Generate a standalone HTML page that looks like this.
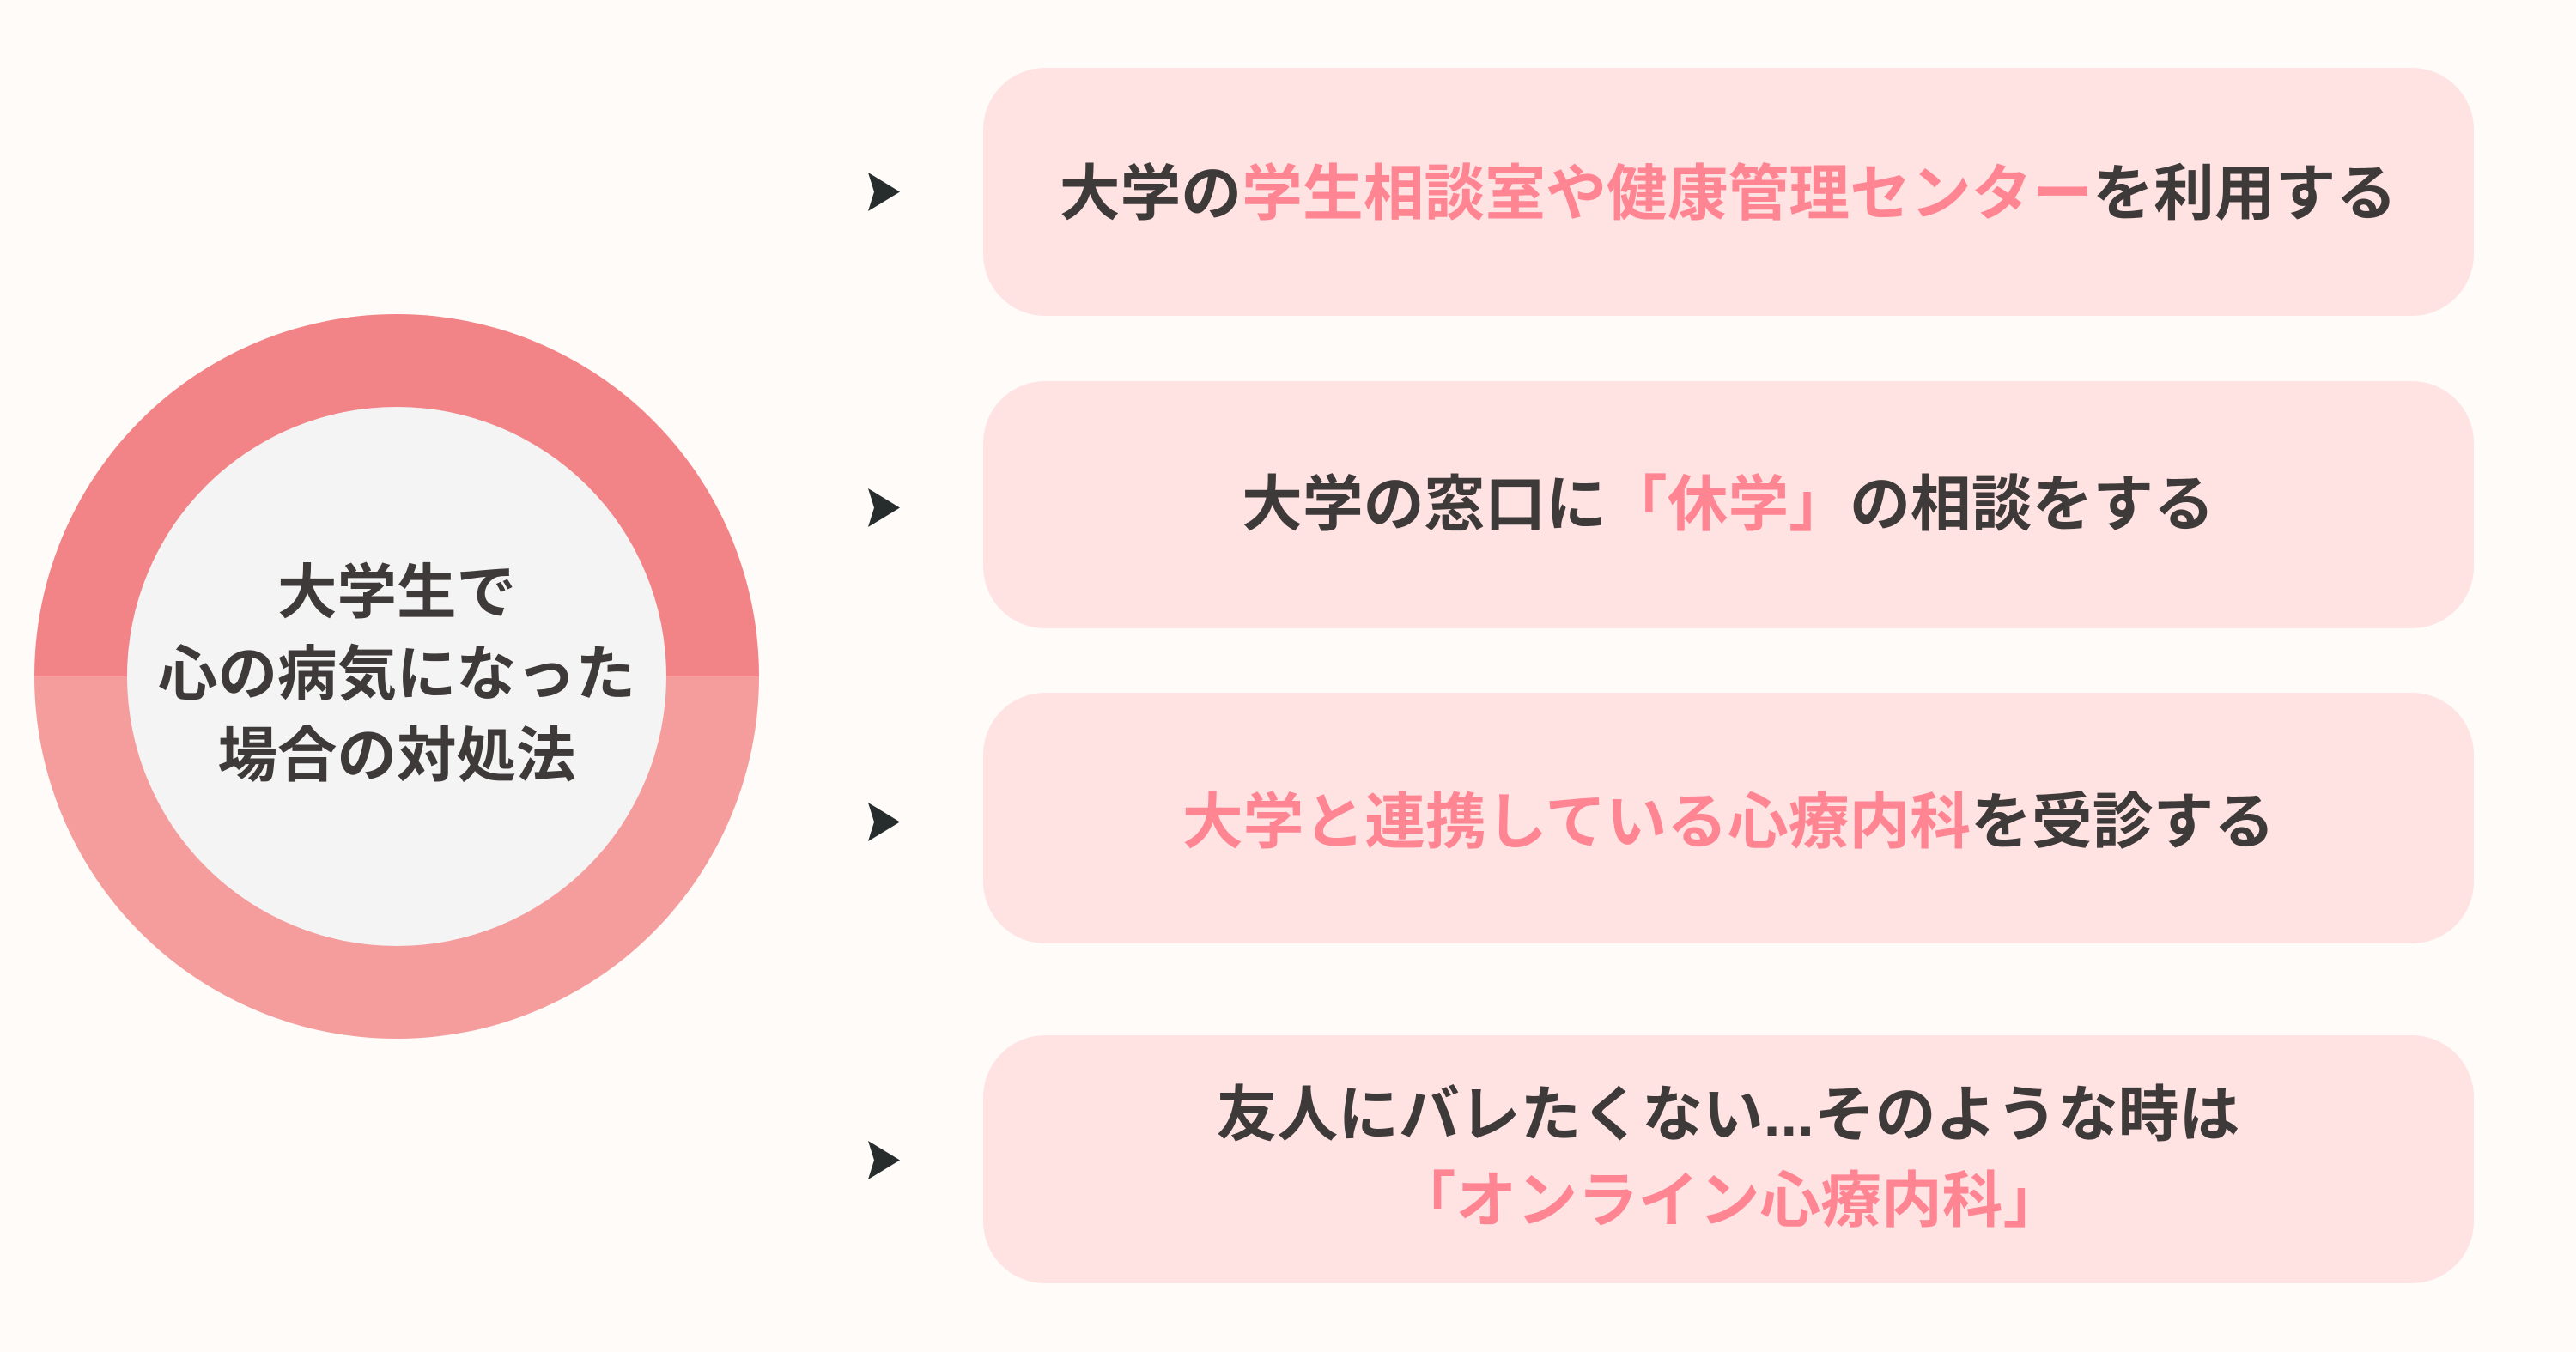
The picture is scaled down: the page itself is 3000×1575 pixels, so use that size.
<!DOCTYPE html>
<html lang="ja"><head><meta charset="utf-8">
<style>
html,body{margin:0;padding:0;background:#fffbf8;}
svg{display:block;}
text{font-family:"Liberation Sans","Noto Sans CJK JP",sans-serif;font-weight:700;font-size:70.8px;fill:#3e3a39;text-anchor:middle;}
text.c{font-size:69.5px;}
.p{fill:#ff8593;}
</style></head><body>
<svg width="3000" height="1575" viewBox="0 0 3000 1575" xmlns="http://www.w3.org/2000/svg">
<rect width="3000" height="1575" fill="#fffbf8"/>
<path d="M40 788A422 422 0 0 1 884 788Z" fill="#f28488"/>
<path d="M40 788A422 422 0 0 0 884 788Z" fill="#f59d9d"/>
<circle cx="462" cy="788" r="314" fill="#f4f4f5"/>
<text class="c" x="462" y="714">大学生で</text>
<text class="c" x="462" y="809">心の病気になった</text>
<text class="c" x="462" y="904">場合の対処法</text>
<rect x="1145" y="79" width="1736" height="289" rx="72" fill="#ffe3e3"/>
<rect x="1145" y="444" width="1736" height="288" rx="72" fill="#ffe3e3"/>
<rect x="1145" y="807" width="1736" height="292" rx="72" fill="#ffe3e3"/>
<rect x="1145" y="1206" width="1736" height="289" rx="72" fill="#ffe3e3"/>
<path d="M1011 201L1048 223.500L1011 246L1018 223.500Z" fill="#272c2c"/>
<path d="M1011 569L1048 591.500L1011 614L1018 591.500Z" fill="#272c2c"/>
<path d="M1011 935L1048 957.500L1011 980L1018 957.500Z" fill="#272c2c"/>
<path d="M1011 1329L1048 1351.500L1011 1374L1018 1351.500Z" fill="#272c2c"/>
<text x="2012.5" y="250">大学の<tspan class="p">学生相談室や健康管理センター</tspan>を利用する</text>
<text x="2012.5" y="612">大学の窓口に<tspan class="p">「休学」</tspan>の相談をする</text>
<text x="2013" y="982"><tspan class="p">大学と連携している心療内科</tspan>を受診する</text>
<text x="2012.5" y="1323">友人にバレたくない...そのような時は</text>
<text x="2014" y="1423" class="p">「オンライン心療内科」</text>
</svg>
</body></html>
